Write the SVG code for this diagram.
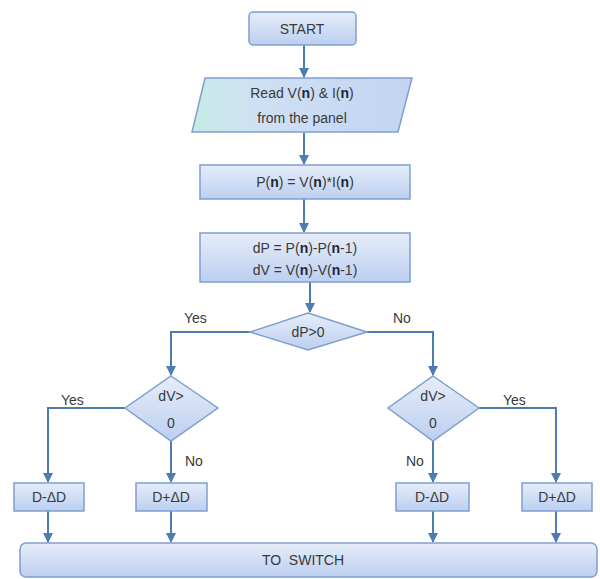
<svg xmlns="http://www.w3.org/2000/svg" width="600" height="579" viewBox="0 0 600 579">
<defs>
<linearGradient id="gBox" x1="0" y1="0" x2="0" y2="1">
<stop offset="0" stop-color="#e6edf9"/>
<stop offset="1" stop-color="#bccff0"/>
</linearGradient>
<linearGradient id="gPar" x1="0" y1="0" x2="1" y2="0">
<stop offset="0" stop-color="#c6ebe6"/>
<stop offset="0.3" stop-color="#cfe0f4"/>
<stop offset="1" stop-color="#c2d4f1"/>
</linearGradient>
<marker id="ah" viewBox="0 0 10 10" refX="9" refY="5" markerWidth="5" markerHeight="5" orient="auto" markerUnits="strokeWidth">
<path d="M0,0 L10,5 L0,10 z" fill="#4f7bb3"/>
</marker>
<style>
.box{fill:url(#gBox);stroke:#7f9fcf;stroke-width:1.5}
.par{fill:url(#gPar);stroke:#7f9fcf;stroke-width:1.5}
.t{font-family:"Liberation Sans",Arial,sans-serif;font-size:14px;fill:#3a3a3a;text-anchor:middle}
.lbl{font-family:"Liberation Sans",Arial,sans-serif;font-size:14px;fill:#3a3a3a}
.n{font-weight:bold;fill:#1a2a3a}
.c{fill:none;stroke:#4f7bb3;stroke-width:2}
</style>
</defs>
<rect width="600" height="579" fill="#ffffff"/>
<g id="connectors">
<line class="c" x1="304" y1="45" x2="304" y2="77" marker-end="url(#ah)"/>
<line class="c" x1="304" y1="133" x2="304" y2="164" marker-end="url(#ah)"/>
<line class="c" x1="304" y1="199" x2="304" y2="232" marker-end="url(#ah)"/>
<line class="c" x1="310" y1="282" x2="310" y2="312" marker-end="url(#ah)"/>
<polyline class="c" points="250,332 171,332 171,375" marker-end="url(#ah)"/>
<polyline class="c" points="367,332 433,332 433,375" marker-end="url(#ah)"/>
<polyline class="c" points="125,408 48,408 48,482" marker-end="url(#ah)"/>
<line class="c" x1="171" y1="441" x2="171" y2="482" marker-end="url(#ah)"/>
<line class="c" x1="433" y1="441" x2="433" y2="482" marker-end="url(#ah)"/>
<polyline class="c" points="479,408 556,408 556,482" marker-end="url(#ah)"/>
<line class="c" x1="48" y1="511" x2="48" y2="542" marker-end="url(#ah)"/>
<line class="c" x1="171" y1="511" x2="171" y2="542" marker-end="url(#ah)"/>
<line class="c" x1="433" y1="511" x2="433" y2="542" marker-end="url(#ah)"/>
<line class="c" x1="556" y1="511" x2="556" y2="542" marker-end="url(#ah)"/>
<text class="lbl" x="184" y="323">Yes</text>
<text class="lbl" x="393" y="323">No</text>
<text class="lbl" x="61" y="405">Yes</text>
<text class="lbl" x="503" y="405">Yes</text>
<text class="lbl" x="185" y="466">No</text>
<text class="lbl" x="406" y="466">No</text>
</g>
<g id="start">
<rect class="box" x="249" y="12" width="107" height="33" rx="4"/>
<text class="t" x="302" y="34">START</text>
</g>
<g id="read">
<polygon class="par" points="205,78 412,78 398,132 192,132"/>
<text class="t" x="302" y="98">Read V(<tspan class="n">n</tspan>) &amp; I(<tspan class="n">n</tspan>)</text>
<text class="t" x="302" y="123">from the panel</text>
</g>
<g id="power">
<rect class="box" x="200" y="165" width="210" height="34"/>
<text class="t" x="305" y="187">P(<tspan class="n">n</tspan>) = V(<tspan class="n">n</tspan>)*I(<tspan class="n">n</tspan>)</text>
</g>
<g id="diff">
<rect class="box" x="200" y="233" width="210" height="49"/>
<text class="t" x="305" y="253">dP = P(<tspan class="n">n</tspan>)-P(<tspan class="n">n</tspan>-1)</text>
<text class="t" x="305" y="275">dV = V(<tspan class="n">n</tspan>)-V(<tspan class="n">n</tspan>-1)</text>
</g>
<g id="dp0">
<polygon class="box" points="308,313 367,332 308,350 250,332"/>
<text class="t" x="308" y="337">dP&gt;0</text>
</g>
<g id="dv0left">
<polygon class="box" points="171,376 218,408 171,441 125,408"/>
<text class="t" x="171" y="401">dV&gt;</text>
<text class="t" x="171" y="428">0</text>
</g>
<g id="dv0right">
<polygon class="box" points="433,376 479,408 433,441 388,408"/>
<text class="t" x="433" y="401">dV&gt;</text>
<text class="t" x="433" y="428">0</text>
</g>
<g id="dminus_left">
<rect class="box" x="14" y="483" width="70" height="28"/>
<text class="t" x="49" y="502">D-ΔD</text>
</g>
<g id="dplus_left">
<rect class="box" x="136" y="483" width="71" height="28"/>
<text class="t" x="171" y="502">D+ΔD</text>
</g>
<g id="dminus_right">
<rect class="box" x="396" y="483" width="73" height="28"/>
<text class="t" x="432" y="502">D-ΔD</text>
</g>
<g id="dplus_right">
<rect class="box" x="522" y="483" width="70" height="28"/>
<text class="t" x="557" y="502">D+ΔD</text>
</g>
<g id="toswitch">
<rect class="box" x="20" y="543" width="577" height="34" rx="6"/>
<text class="t" x="303" y="565" xml:space="preserve">TO  SWITCH</text>
</g>
</svg>
